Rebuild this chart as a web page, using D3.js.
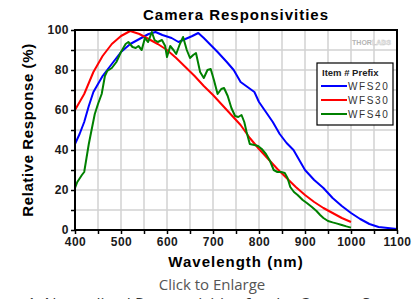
<!DOCTYPE html>
<html>
<head>
<meta charset="utf-8">
<script src="https://cdn.jsdelivr.net/npm/d3@7"></script>
<style>
  body { margin: 0; background: #fff; }
  svg { display: block; }
</style>
</head>
<body>
<svg id="chart" width="414" height="299"></svg>
<script>
// data (wavelength nm / relative response %)
var wfs20Nm   = [400, 410, 420, 430, 440, 460, 480, 500, 520, 540, 560, 575, 590, 610, 625, 640, 655, 668, 680, 695, 710, 730, 745, 760, 775, 790, 800, 815, 830, 845, 860, 875, 890, 900, 920, 940, 960, 980, 1000, 1020, 1040, 1060, 1080, 1100];
var wfs20Resp = [43, 48, 54, 62, 69, 77, 83, 89, 93, 95.5, 98, 99, 97.5, 96, 94, 95.5, 97, 98.5, 96, 92.5, 89, 84, 80, 74, 71.5, 69, 64, 59, 54, 48, 43.5, 40, 34, 30, 25, 21, 16, 12, 8.5, 5.5, 3, 1.5, 1, 0.5];

var wfs30Nm   = [400, 420, 440, 460, 480, 500, 520, 540, 560, 580, 600, 620, 640, 660, 680, 700, 720, 740, 760, 780, 800, 820, 840, 860, 880, 900, 920, 940, 960, 980, 1000];
var wfs30Resp = [60, 68, 79, 87, 93, 97, 99.5, 98, 95.5, 93, 90, 86, 81.5, 77, 72, 67.5, 62.5, 57.5, 52.5, 46, 40.5, 35.5, 30.5, 26, 21.5, 17.5, 14, 11, 8.5, 6, 4];

var wfs40Nm   = [400, 405, 415, 420, 425, 430, 436, 443, 450, 458, 465, 470, 480, 490, 500, 510, 516, 525, 532, 538, 545, 552, 559, 567, 573, 580, 589, 596, 600, 607, 614, 620, 628, 635, 643, 650, 657, 663, 672, 680, 688, 695, 702, 710, 718, 724, 732, 740, 748, 755, 762, 768, 773, 780, 790, 798, 806, 815, 824, 832, 840, 848, 856, 862, 868, 876, 884, 895, 904, 915, 925, 933, 940, 950, 960, 970, 980, 990, 1000];
var wfs40Resp = [21, 24, 27.5, 29, 36, 43, 50, 58, 63, 68, 77, 79.5, 81, 84, 89, 93, 94, 91.5, 91, 92, 90, 96, 94, 99, 95, 94, 95, 92, 86.5, 92, 90, 88, 93, 96.5, 90, 86, 87.5, 88.5, 79, 76, 80, 80.5, 75, 68, 70.5, 71, 67, 61, 57, 56.5, 57.5, 54, 49, 43, 42.5, 42, 40.5, 38, 34.5, 30, 29, 29, 28.5, 26, 21.5, 19, 17.5, 15, 13.5, 11.5, 9.5, 7.5, 6, 4.5, 3.8, 3.2, 2.5, 1.8, 1.2];

var seriesNames  = ["WFS20", "WFS30", "WFS40"];
var seriesColors = ["#0000ff", "#ff0000", "#008000"];
var xTicks = [400, 500, 600, 700, 800, 900, 1000, 1100];
var yTicks = [0, 20, 40, 60, 80, 100];

var font = "'Liberation Sans', Arial, sans-serif";
var svg = d3.select("#chart");

var x = d3.scaleLinear().domain([400, 1100]).range([75, 397]);
var y = d3.scaleLinear().domain([0, 100]).range([230, 30]);

// grid
svg.append("g").selectAll("line")
  .data(d3.range(450, 1100, 50))
  .enter().append("line")
  .attr("x1", function(d) { return x(d); }).attr("x2", function(d) { return x(d); })
  .attr("y1", y(0)).attr("y2", y(100))
  .attr("stroke", "#d2d2d2").attr("stroke-width", 1.5);

svg.append("g").selectAll("line")
  .data(d3.range(10, 100, 10))
  .enter().append("line")
  .attr("x1", x(400)).attr("x2", x(1100))
  .attr("y1", function(d) { return y(d); }).attr("y2", function(d) { return y(d); })
  .attr("stroke", "#d2d2d2").attr("stroke-width", 1.5);

// watermark
var wm = svg.append("text")
  .attr("x", 391).attr("y", 45)
  .attr("text-anchor", "end")
  .style("font-family", font).style("font-weight", "bold").style("font-size", "7px");
wm.append("tspan").attr("fill", "#b4b4b4").text("THOR");
wm.append("tspan").attr("fill", "#fff").attr("stroke", "#c8c8c8").attr("stroke-width", 0.5).text("LABS");

// axes
var xAxis = d3.axisBottom(x).tickValues(d3.range(400, 1101, 50)).tickSize(4)
  .tickFormat(function(d) { return xTicks.indexOf(d) >= 0 ? d : ""; });
var yAxis = d3.axisLeft(y).tickValues(d3.range(0, 101, 10)).tickSize(4)
  .tickFormat(function(d) { return yTicks.indexOf(d) >= 0 ? d : ""; });

var gx = svg.append("g").attr("transform", "translate(0," + y(0) + ")").call(xAxis);
var gy = svg.append("g").attr("transform", "translate(" + x(400) + ",0)").call(yAxis);

[gx, gy].forEach(function(g) {
  g.select(".domain").remove();
  g.selectAll(".tick line").attr("stroke", "#000").attr("stroke-width", 1.5);
  g.selectAll(".tick text")
    .attr("fill", "#1a1a1a")
    .style("font-family", font).style("font-weight", "bold").style("font-size", "12px")
    .style("letter-spacing", "0.5px");
});
gx.selectAll(".tick text").attr("y", 7);
gy.selectAll(".tick text").attr("x", -6);

// series
var line = d3.line()
  .x(function(d) { return x(d[0]); })
  .y(function(d) { return y(d[1]); });

var seriesData = [
  d3.zip(wfs20Nm, wfs20Resp),
  d3.zip(wfs30Nm, wfs30Resp),
  d3.zip(wfs40Nm, wfs40Resp)
];

svg.append("g").selectAll("path")
  .data(seriesData)
  .enter().append("path")
  .attr("d", line)
  .attr("fill", "none")
  .attr("stroke", function(d, i) { return seriesColors[i]; })
  .attr("stroke-width", 2)
  .attr("stroke-linejoin", "round");

// frame
svg.append("rect")
  .attr("x", x(400)).attr("y", y(100))
  .attr("width", x(1100) - x(400)).attr("height", y(0) - y(100))
  .attr("fill", "none").attr("stroke", "#000").attr("stroke-width", 2);

// legend
var legend = svg.append("g").attr("transform", "translate(317,63)");
legend.append("rect")
  .attr("width", 76).attr("height", 62)
  .attr("fill", "#fff").attr("stroke", "#000").attr("stroke-width", 1.2);
legend.append("text")
  .attr("x", 5).attr("y", 13)
  .style("font-family", font).style("font-weight", "bold").style("font-size", "9.5px")
  .attr("fill", "#222")
  .text("Item # Prefix");

var item = legend.selectAll(".item")
  .data(seriesNames)
  .enter().append("g")
  .attr("class", "item")
  .attr("transform", function(d, i) { return "translate(0," + (23 + i * 14) + ")"; });
item.append("line")
  .attr("x1", 4).attr("x2", 30)
  .attr("stroke", function(d, i) { return seriesColors[i]; })
  .attr("stroke-width", 2);
item.append("text")
  .attr("x", 31).attr("dy", "0.35em")
  .style("font-family", font).style("font-size", "10px").style("letter-spacing", "1.6px")
  .attr("fill", "#333")
  .text(function(d) { return d; });

// titles
svg.append("text")
  .attr("x", 236).attr("y", 20)
  .attr("text-anchor", "middle")
  .style("font-family", font).style("font-weight", "bold").style("font-size", "15px")
  .style("letter-spacing", "1px")
  .text("Camera Responsivities");

svg.append("text")
  .attr("x", 236).attr("y", 267)
  .attr("text-anchor", "middle")
  .style("font-family", font).style("font-weight", "bold").style("font-size", "15px")
  .style("letter-spacing", "1px")
  .text("Wavelength (nm)");

svg.append("text")
  .attr("transform", "translate(33,130) rotate(-90)")
  .attr("text-anchor", "middle")
  .style("font-family", font).style("font-weight", "bold").style("font-size", "15px")
  .style("letter-spacing", "0.6px")
  .text("Relative Response (%)");

// page text below the image
svg.append("text")
  .attr("x", 212).attr("y", 290)
  .attr("text-anchor", "middle")
  .attr("fill", "#555")
  .style("font-family", "'Open Sans', sans-serif").style("font-size", "15px")
  .text("Click to Enlarge");

svg.append("text")
  .attr("x", 27).attr("y", 310)
  .attr("fill", "#333")
  .style("font-family", "'Open Sans', sans-serif").style("font-size", "16px")
  .style("white-space", "pre")
  .text("1  Normalized Responsivities for the Camera Sensors");
</script>
</body>
</html>
